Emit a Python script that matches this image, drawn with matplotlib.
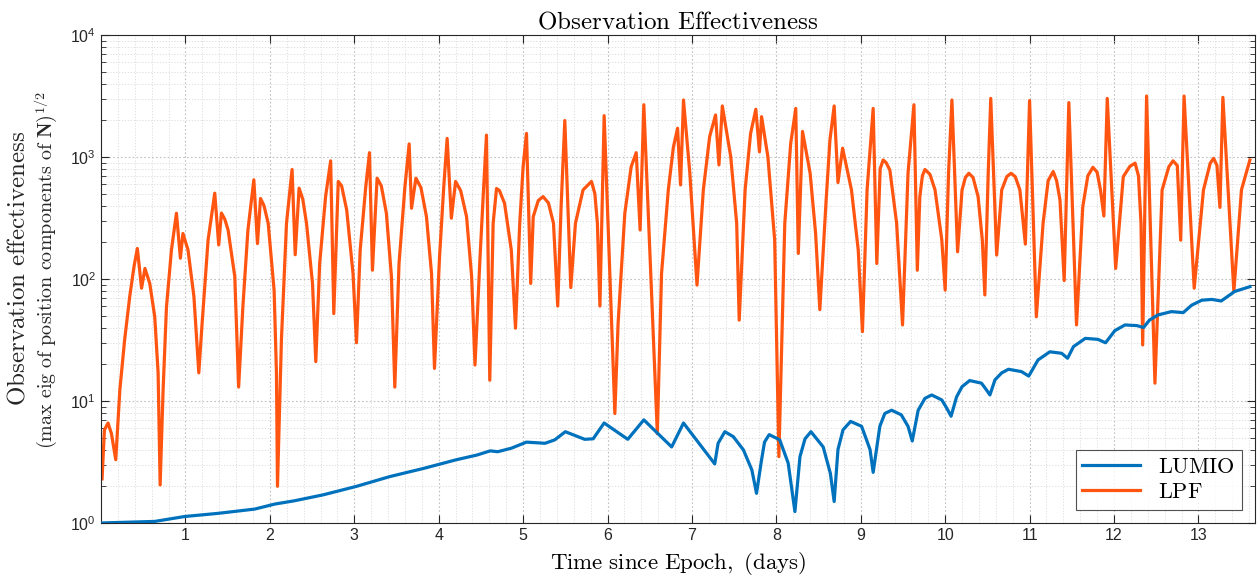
import math
import matplotlib
matplotlib.use("Agg")
import matplotlib.pyplot as plt
from matplotlib.ticker import FixedLocator, LogLocator, FuncFormatter, NullFormatter

plt.rcParams['font.family'] = 'Liberation Sans'
plt.rcParams['mathtext.fontset'] = 'custom'
plt.rcParams['mathtext.rm'] = 'Liberation Sans'
plt.rcParams['mathtext.it'] = 'Liberation Sans:italic'
plt.rcParams['mathtext.bf'] = 'Liberation Sans:bold'

# ---------------- data ----------------
lpf_t = [0.012, 0.04, 0.083, 0.123, 0.174, 0.223, 0.28, 0.34, 0.39, 0.43, 0.48, 0.52,
         0.577, 0.636, 0.676, 0.70, 0.735, 0.775, 0.834, 0.893, 0.94, 0.97, 1.03, 1.10,
         1.158, 1.197, 1.268, 1.347, 1.394, 1.426, 1.465, 1.505, 1.584, 1.63, 1.68, 1.74,
         1.81, 1.853, 1.889, 1.93, 1.98, 2.05, 2.078, 2.09, 2.137, 2.197, 2.263, 2.30,
         2.346, 2.39, 2.434, 2.505, 2.544, 2.59, 2.66, 2.72, 2.757, 2.81, 2.85, 2.91,
         2.985, 3.026, 3.07, 3.136, 3.18, 3.215, 3.27, 3.32, 3.38, 3.44, 3.48, 3.53,
         3.60, 3.65, 3.678, 3.73, 3.79, 3.855, 3.915, 3.95, 4.01, 4.06, 4.10, 4.15,
         4.20, 4.26, 4.33, 4.39, 4.43, 4.49, 4.535, 4.566, 4.605, 4.645, 4.685, 4.72,
         4.78, 4.86, 4.91, 4.96, 5.0, 5.04, 5.09, 5.12, 5.18, 5.237, 5.30, 5.36,
         5.41, 5.45, 5.494, 5.565, 5.62, 5.71, 5.81, 5.85, 5.88, 5.91, 5.96, 6.087,
         6.125, 6.205, 6.28, 6.34, 6.386, 6.43, 6.59, 6.64, 6.72, 6.78, 6.83, 6.865,
         6.90, 6.975, 7.06, 7.135, 7.21, 7.28, 7.32, 7.36, 7.46, 7.53, 7.56, 7.63,
         7.695, 7.757, 7.80, 7.825, 7.90, 7.98, 8.03, 8.10, 8.17, 8.23, 8.26, 8.31,
         8.40, 8.465, 8.515, 8.59, 8.635, 8.685, 8.73, 8.785, 8.89, 8.97, 9.02, 9.075,
         9.147, 9.19, 9.23, 9.265, 9.30, 9.345, 9.425, 9.495, 9.56, 9.63, 9.67, 9.70,
         9.73, 9.76, 9.82, 9.88, 9.96, 10.0, 10.04, 10.08, 10.147, 10.2, 10.24, 10.28,
         10.33, 10.39, 10.44, 10.47, 10.51, 10.54, 10.61, 10.67, 10.73, 10.78, 10.83,
         10.885, 10.95, 11.0, 11.08, 11.16, 11.22, 11.28, 11.32, 11.36, 11.41, 11.465,
         11.556, 11.63, 11.69, 11.75, 11.80, 11.84, 11.88, 11.92, 12.02, 12.11, 12.19,
         12.25, 12.29, 12.32, 12.34, 12.386, 12.485, 12.57, 12.65, 12.70, 12.75, 12.79,
         12.83, 12.95, 13.06, 13.14, 13.18, 13.22, 13.255, 13.29, 13.42, 13.51, 13.61]
lpf_v = [2.3, 5.8, 6.6, 5.4, 3.3, 12.4, 32, 72, 126, 178, 84, 122,
         92, 49, 17, 2.05, 12.3, 59, 173, 346, 148, 236, 173, 72,
         17, 43, 209, 505, 190, 347, 310, 252, 105, 13, 59, 252,
         650, 195, 457, 400, 286, 81, 17, 2.0, 32, 286, 790, 158,
         555, 450, 286, 92, 21, 134, 473, 930, 52, 630, 580, 368,
         111, 30, 173, 571, 1085, 118, 670, 580, 346, 105, 13, 134,
         571, 1280, 380, 670, 560, 324, 111, 18.5, 152, 571, 1420, 315,
         630, 530, 324, 105, 19.7, 152, 609, 1510, 14.8, 286, 552, 530,
         417, 173, 39.5, 286, 832, 1560, 92, 324, 440, 473, 420, 286,
         60, 390, 1990, 85, 286, 537, 630, 500, 286, 60, 2180, 7.9,
         43, 346, 830, 1085, 252, 2680, 5.4, 111, 537, 1200, 1720, 590,
         2930, 738, 89, 537, 1470, 2210, 860, 2620, 1000, 286, 46, 537,
         1560, 2460, 1100, 2140, 1000, 209, 3.5, 286, 1290, 2500, 162, 1620,
         738, 237, 56, 445, 1380, 2620, 617, 1180, 537, 173, 37, 537,
         2500, 134, 800, 945, 900, 780, 286, 42, 738, 2680, 118, 473,
         700, 790, 720, 537, 209, 81, 738, 2930, 167, 537, 680, 735,
         680, 473, 209, 74, 738, 3020, 157, 537, 690, 735, 690,
         537, 193, 2900, 49, 286, 640, 760, 640, 445, 97, 2790,
         42, 390, 700, 823, 750, 537, 328, 3020, 122, 690, 840,
         890, 700, 286, 28.8, 3160, 14, 537, 832, 930, 850, 208,
         3160, 84, 537, 890, 975, 850, 386, 3080, 79, 537, 945]

lumio_t = [0.0, 0.636, 0.99, 1.39, 1.82, 2.06, 2.29, 2.63, 3.03, 3.42, 3.82, 4.21, 4.45,
           4.61, 4.70, 4.86, 5.04, 5.26, 5.375, 5.50, 5.73, 5.83, 5.96, 6.24, 6.43, 6.76,
           6.90, 7.27, 7.31, 7.39, 7.49, 7.61, 7.71, 7.765, 7.825, 7.86, 7.915, 8.04, 8.14,
           8.22, 8.28, 8.34, 8.41, 8.555, 8.64, 8.685, 8.73, 8.79, 8.88, 9.01, 9.11, 9.147,
           9.226, 9.285, 9.365, 9.48, 9.56, 9.61, 9.68, 9.76, 9.84, 9.96, 10.02, 10.07,
           10.135, 10.2, 10.29, 10.43, 10.49, 10.53, 10.59, 10.67, 10.75, 10.905, 10.99,
           11.10, 11.24, 11.38, 11.45, 11.52, 11.66, 11.81, 11.90, 12.01, 12.13, 12.27,
           12.35, 12.42, 12.52, 12.68, 12.82, 12.92, 13.04, 13.16, 13.27, 13.43, 13.61]
lumio_v = [1.0, 1.03, 1.13, 1.2, 1.3, 1.43, 1.52, 1.7, 2.0, 2.4, 2.8, 3.3, 3.6,
           3.9, 3.84, 4.1, 4.6, 4.5, 4.8, 5.6, 4.85, 4.9, 6.6, 4.85, 7.0, 4.2,
           6.6, 3.05, 4.5, 5.6, 5.1, 3.97, 2.72, 1.75, 3.3, 4.6, 5.3, 4.8, 3.1,
           1.24, 3.5, 4.9, 5.6, 4.2, 2.55, 1.5, 4.0, 5.8, 6.8, 6.2, 4.0, 2.6,
           6.2, 7.9, 8.4, 7.7, 6.2, 4.7, 8.4, 10.5, 11.2, 10.2, 8.7, 7.5,
           10.8, 13.1, 14.7, 14.0, 12.3, 11.2, 14.9, 17.0, 18.2, 17.4, 16.0,
           21.7, 25.3, 24.6, 22.4, 27.9, 32.6, 32.0, 30.0, 37.7, 42.0, 41.5,
           40.0, 46.0, 50.7, 54.0, 53.0, 61.0, 67.0, 68.0, 66.0, 79.0, 86.5]

x_ticks = [1, 2, 3, 4, 5, 6, 7, 8, 9, 10, 11, 12, 13]
y_ticks = [1, 10, 100, 1000, 10000]
series_names = [r"$\mathrm{LUMIO}$", r"$\mathrm{LPF}$"]
title_text = r"$\mathrm{Observation\ Effectiveness}$"
xlabel_text = r"$\mathrm{Time\ since\ Epoch,\ (days)}$"
ylabel_line1 = r"$\mathrm{Observation\ effectiveness}$"
ylabel_line2 = r"$\mathrm{(max\ eig\ of\ position\ components\ of\ }\mathbf{N}\mathrm{)}^{1/2}$"

# ---------------- figure ----------------
fig = plt.figure(figsize=(12.6, 5.8), dpi=100)
ax = fig.add_axes([0.0802, 0.0983, 0.9158, 0.8414])

blue = '#0072BD'
orange = '#FF5510'
ax.plot(lumio_t, lumio_v, color=blue, lw=2.3, label=series_names[0], zorder=3,
        solid_joinstyle='round')
ax.plot(lpf_t, lpf_v, color=orange, lw=2.3, label=series_names[1], zorder=2,
        solid_joinstyle='round')

ax.set_yscale('log')
ax.set_xlim(0, 13.67)
ax.set_ylim(1, 1e4)

ax.xaxis.set_major_locator(FixedLocator(x_ticks))
ax.xaxis.set_minor_locator(FixedLocator([i * 0.2 for i in range(0, 69)]))
ax.yaxis.set_major_locator(FixedLocator(y_ticks))
ax.yaxis.set_minor_locator(LogLocator(base=10, subs=range(2, 10)))
ax.yaxis.set_minor_formatter(NullFormatter())
ax.yaxis.set_major_formatter(FuncFormatter(
    lambda v, p: r"$10^{%d}$" % round(math.log10(v))))
ax.xaxis.set_major_formatter(FuncFormatter(lambda v, p: "%d" % v))

ax.tick_params(which='both', direction='in', top=True, right=True, colors='#262626',
               labelcolor='#262626')
ax.tick_params(which='major', length=6, width=0.8, labelsize=11.5)
ax.tick_params(axis='x', which='minor', length=0)
ax.tick_params(axis='y', which='minor', length=3.5, width=0.6)

ax.grid(True, which='major', color='#c0c0c0', ls=(0, (1.5, 2)), lw=0.8)
ax.grid(True, which='minor', color='#dadada', ls=(0, (1.5, 2)), lw=0.6)
ax.set_axisbelow(True)
for s in ax.spines.values():
    s.set_color('#262626')
    s.set_linewidth(0.8)

ax.set_title(title_text, fontsize=18, pad=5, math_fontfamily='cm')
ax.set_xlabel(xlabel_text, fontsize=16.5, labelpad=5, math_fontfamily='cm')
# two-line y label (second line is set smaller in the reference)
fig.text(18 / 1260, 1 - 268 / 580, ylabel_line1, rotation=90, ha='center', va='center',
         fontsize=18, math_fontfamily='cm', color='#262626')
fig.text(46 / 1260, 1 - 270 / 580, ylabel_line2, rotation=90, ha='center', va='center',
         fontsize=14.5, math_fontfamily='cm', color='#262626')

leg = ax.legend(loc='lower right', fontsize=16, frameon=True, fancybox=False,
                edgecolor='#262626', handlelength=2.6, borderaxespad=0.6,
                borderpad=0.3, labelspacing=0.2)
leg.get_frame().set_linewidth(0.8)
for t in leg.get_texts():
    t.set_math_fontfamily('cm')

fig.savefig('out.png', dpi=100)
